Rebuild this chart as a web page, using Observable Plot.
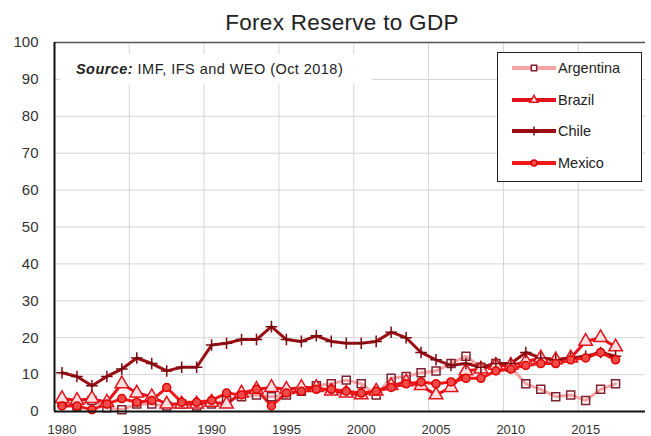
<!DOCTYPE html>
<html><head><meta charset="utf-8">
<script src="https://cdn.jsdelivr.net/npm/d3@7"></script>
<script src="https://cdn.jsdelivr.net/npm/@observablehq/plot@0.6"></script>
<style>
body{margin:0;background:#fff;font-family:"Liberation Sans",Arial,sans-serif;}
#wrap{position:relative;width:651px;height:436px;overflow:hidden;}
#title{height:32px;box-sizing:border-box;padding-top:12px;padding-left:33px;text-align:center;font-size:22.5px;line-height:22px;color:#222;letter-spacing:0.3px;}
#source{position:absolute;left:60px;top:54px;width:312px;height:30px;line-height:30px;background:#fff;font-size:14.5px;letter-spacing:0.45px;color:#222;padding-left:16px;box-sizing:border-box;white-space:nowrap;}
#legend{position:absolute;left:497px;top:52px;width:145px;height:130px;box-sizing:border-box;border:1.5px solid #222;background:#fff;}
.item{position:absolute;left:14px;height:20px;display:flex;align-items:center;font-size:14.5px;color:#222;}
.item svg{margin-right:2px;}
</style></head>
<body><div id="wrap"><div id="title"></div><div id="chart"></div><div id="source"></div><div id="legend"></div></div>
<script>
const titleText = "Forex Reserve to GDP";
const sourceLabel = "Source:";
const sourceText = " IMF, IFS and WEO (Oct 2018)";

const years = [1980,1981,1982,1983,1984,1985,1986,1987,1988,1989,1990,1991,1992,1993,1994,1995,1996,1997,1998,1999,
  2000,2001,2002,2003,2004,2005,2006,2007,2008,2009,2010,2011,2012,2013,2014,2015,2016,2017];

const argentina = [2.5,1.5,3,1,0.5,2,2,1.5,2,1.5,2,3,4,4.5,4,4.5,5.5,7,7.5,8.5,
  7.5,4.5,9,9.5,10.5,11,13,15,12,13,12,7.5,6,4,4.5,3,6,7.5];
const brazil = [3.5,3,3.5,2.5,7.5,5,4,2,2,2,2.5,2,5,6,6.5,6,6.5,6.5,5.5,5,
  4.5,5.5,7,8,7,4.5,6.5,11,11.5,12.5,12.5,13.5,14.5,14,14.5,19,20,17.5];
const chile = [10.5,9.5,7,9.5,11.5,14.5,13,11,12,12,18,18.5,19.5,19.5,23,19.5,19,20.5,19,18.5,
  18.5,19,21.5,20,16,14,12.5,13,12,13,13,16,14.5,14,14.5,15,16,15];
const mexico = [1.5,1.5,0.5,2,3.5,2.5,3,6.5,2.5,2.5,3,5,4.5,6,1.5,5,5.5,6,6,5.5,
  5,5.5,6.5,7.5,8,7.5,8,9,9,11,11.5,12.5,13,13,14,14.5,16,14];

const seriesNames = ["Argentina","Brazil","Chile","Mexico"];
const seriesValues = [argentina, brazil, chile, mexico];
const lineColors = ["#f5a3a3","#e3121b","#9b0f14","#f01818"];
const markerSymbols = ["square","triangle","plus","circle"];
const markerStrokes = ["#7d2030","#e3121b","#7a0a10","#e00000"];
const markerFills = ["none","#ffe0e0","none","#f34a4a"];
const markerR = [4.5,5,3.8,4];

const yTicks = [0,10,20,30,40,50,60,70,80,90,100];
const xTicks = [1980,1985,1990,1995,2000,2005,2010,2015];

document.getElementById("title").textContent = titleText;
document.getElementById("source").innerHTML = "<b><i>" + sourceLabel + "</i></b>" + sourceText;

const rows = [];
seriesNames.forEach((name, i) => {
  years.forEach((yr, j) => rows.push({country: name, year: yr, value: seriesValues[i][j]}));
});

const marks = [
  Plot.gridY(yTicks.filter(t => t > 0 && t < 100), {stroke: "#d4d4d4", strokeOpacity: 1}),
  Plot.gridX(xTicks.map(t => t - 0.5).filter(t => t > years[0] - 0.5), {stroke: "#d4d4d4", strokeOpacity: 1}),
  Plot.ruleY([yTicks[yTicks.length - 1]], {stroke: "#555", strokeWidth: 1.5}),
];
seriesNames.forEach((name, i) => {
  marks.push(Plot.line(rows.filter(d => d.country === name), {
    x: "year", y: "value", stroke: lineColors[i], strokeWidth: 3, strokeLinejoin: "round"
  }));
});
seriesNames.forEach((name, i) => {
  marks.push(Plot.dot(rows.filter(d => d.country === name), {
    x: "year", y: "value", symbol: () => markerSymbols[i], r: markerR[i],
    stroke: markerStrokes[i], fill: markerFills[i], strokeWidth: 1.5
  }));
});
marks.push(
  Plot.ruleY([0], {stroke: "#111", strokeWidth: 2}),
  Plot.ruleX([years[0] - 0.5], {stroke: "#111", strokeWidth: 2}),
  Plot.axisY({ticks: yTicks, tickSize: 0, tickPadding: 16, fontSize: 15, label: null}),
  Plot.axisX({ticks: xTicks, tickSize: 0, tickPadding: 13, fontSize: 13, tickFormat: d => String(d), label: null})
);

const chart = Plot.plot({
  width: 651,
  height: 404,
  marginTop: 10,
  marginBottom: 25,
  marginLeft: 54,
  marginRight: 6,
  style: {fontFamily: "'Liberation Sans', Arial, sans-serif", color: "#333", background: "#fff"},
  x: {domain: [years[0] - 0.5, 2019], type: "linear"},
  y: {domain: [yTicks[0], yTicks[yTicks.length - 1]]},
  symbol: {type: "identity"},
  marks
});
document.getElementById("chart").appendChild(chart);

// Legend
const legend = document.getElementById("legend");
const tops = [5, 37, 68, 100];
seriesNames.forEach((name, i) => {
  const item = document.createElement("div");
  item.className = "item";
  item.style.top = tops[i] + "px";
  const sym = {square: d3.symbolSquare, triangle: d3.symbolTriangle, plus: d3.symbolPlus, circle: d3.symbolCircle}[markerSymbols[i]];
  const path = d3.symbol(sym, 28)();
  item.innerHTML = `<svg width="44" height="14"><line x1="0" x2="44" y1="7" y2="7" stroke="${lineColors[i]}" stroke-width="4"/>` +
    `<path d="${path}" transform="translate(22,7)" stroke="${markerStrokes[i]}" fill="${markerFills[i] === 'none' ? (i===0 ? '#fff' : 'none') : markerFills[i]}" stroke-width="1.5"/></svg><span>${name}</span>`;
  legend.appendChild(item);
});
</script>
</body></html>
